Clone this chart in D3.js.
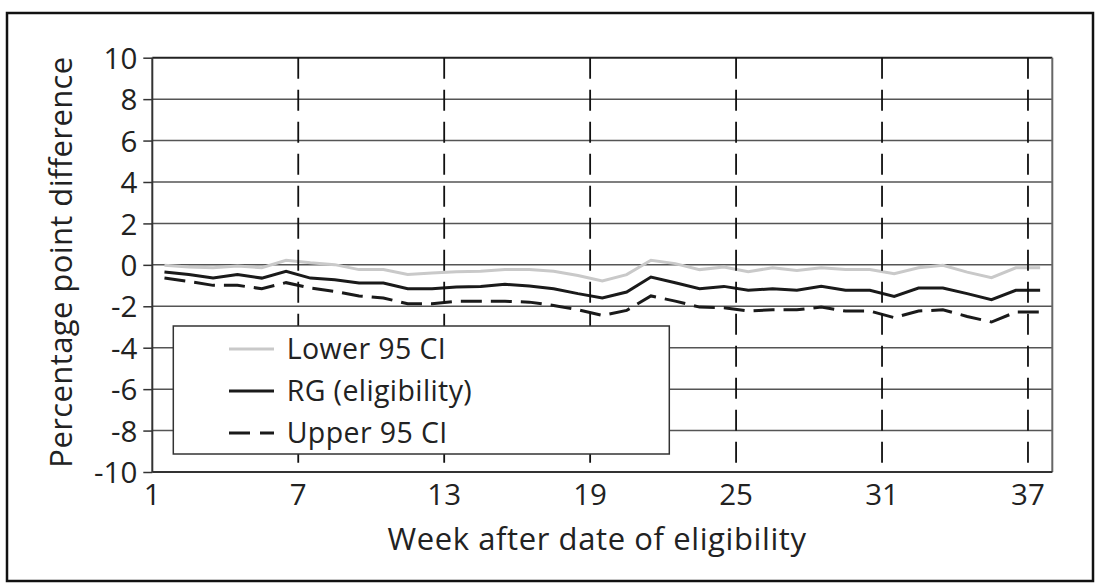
<!DOCTYPE html>
<html>
<head>
<meta charset="utf-8">
<script src="https://cdn.jsdelivr.net/npm/d3@7"></script>
<style>
  body { margin: 0; background: #fff; }
  svg { display: block; font-family: "Open Sans", "Noto Sans", sans-serif; }
</style>
</head>
<body>
<svg width="1101" height="588"></svg>
<script>
// ---- Dados
const weeks = d3.range(1, 38);
const xTicks = [1, 7, 13, 19, 25, 31, 37];
const yTicks = [-10, -8, -6, -4, -2, 0, 2, 4, 6, 8, 10];

const lowerCI = [-0.02, -0.10, -0.14, -0.06, -0.14, 0.22, 0.10, 0.01, -0.23, -0.23,
  -0.47, -0.39, -0.33, -0.31, -0.23, -0.23, -0.31, -0.51, -0.78, -0.47,
  0.22, 0.06, -0.23, -0.10, -0.33, -0.14, -0.27, -0.14, -0.23, -0.23,
  -0.43, -0.14, -0.02, -0.35, -0.62, -0.14, -0.14];
const rg = [-0.35, -0.47, -0.64, -0.47, -0.64, -0.31, -0.64, -0.72, -0.88, -0.88,
  -1.15, -1.15, -1.07, -1.04, -0.94, -1.02, -1.15, -1.39, -1.60, -1.31,
  -0.59, -0.86, -1.15, -1.04, -1.23, -1.15, -1.23, -1.04, -1.23, -1.23,
  -1.52, -1.12, -1.12, -1.39, -1.68, -1.23, -1.23];
const upperCI = [-0.64, -0.80, -0.99, -0.99, -1.15, -0.86, -1.12, -1.28, -1.50, -1.60,
  -1.88, -1.88, -1.76, -1.76, -1.76, -1.80, -1.96, -2.17, -2.44, -2.20,
  -1.50, -1.75, -2.04, -2.07, -2.23, -2.17, -2.17, -2.04, -2.23, -2.23,
  -2.55, -2.23, -2.17, -2.49, -2.76, -2.28, -2.28];

const seriesNames = ['Lower 95 CI', 'RG (eligibility)', 'Upper 95 CI'];
const xTitle = 'Week after date of eligibility';
const yTitle = 'Percentage point difference';

const margens = { left: 152.3, right: 1052.3, top: 57.7, bottom: 472 };

const svg = d3.select('svg');

// moldura externa
svg.append('rect')
  .attr('x', 7).attr('y', 13)
  .attr('width', 1086).attr('height', 568)
  .attr('fill', 'none')
  .attr('stroke', '#111')
  .attr('stroke-width', 2.5);

// ---- Escalas
const mapX = d3.scaleBand().domain(weeks).range([margens.left, margens.right]).paddingInner(0).paddingOuter(0);
const mapY = d3.scaleLinear().domain([-10, 10]).range([margens.bottom, margens.top]);
const mid = d => mapX(d) + mapX.bandwidth() / 2;

const styles = [
  { stroke: '#c9c9c9', dash: null },
  { stroke: '#1a1a1a', dash: null },
  { stroke: '#1a1a1a', dash: '21,9' }
];

// ---- Grade horizontal
svg.append('g')
  .selectAll('line')
  .data(yTicks)
  .join('line')
  .attr('x1', margens.left).attr('x2', margens.right)
  .attr('y1', d => mapY(d)).attr('y2', d => mapY(d))
  .attr('stroke', d => d === 10 ? '#222' : '#555')
  .attr('stroke-width', d => d === 10 ? 2 : 1.5);

// borda direita
svg.append('line')
  .attr('x1', margens.right).attr('x2', margens.right)
  .attr('y1', margens.top).attr('y2', margens.bottom)
  .attr('stroke', '#666').attr('stroke-width', 2);

// ---- Paths
const series = [lowerCI, rg, upperCI];
const line = d3.line()
  .x((d, i) => mid(weeks[i]))
  .y(d => mapY(d));

svg.append('g')
  .selectAll('path')
  .data(series)
  .join('path')
  .attr('fill', 'none')
  .attr('stroke', (d, i) => styles[i].stroke)
  .attr('stroke-width', 3)
  .attr('stroke-dasharray', (d, i) => styles[i].dash)
  .attr('d', line);

// ---- Grade vertical tracejada
svg.append('g')
  .selectAll('line')
  .data(xTicks.slice(1))
  .join('line')
  .attr('x1', d => mapX(d)).attr('x2', d => mapX(d))
  .attr('y1', margens.top).attr('y2', margens.bottom)
  .attr('stroke', '#111')
  .attr('stroke-width', 1.8)
  .attr('stroke-dasharray', '21,11');

// ---- Eixos
const yAxis = d3.axisLeft(mapY).tickValues(yTicks).tickFormat(d => String(d)).tickSize(9).tickPadding(6);
const groupY = svg.append('g')
  .attr('transform', `translate(${margens.left},0)`)
  .call(yAxis);
groupY.select('.domain').remove();
groupY.selectAll('.tick line').attr('stroke', '#333').attr('stroke-width', 1.5);
groupY.selectAll('.tick text')
  .attr('font-size', 29.5).attr('fill', '#222')
  .attr('font-family', '"Open Sans", sans-serif')
  .attr('dy', '0.36em');

svg.append('line')
  .attr('x1', margens.left).attr('x2', margens.left)
  .attr('y1', margens.top).attr('y2', margens.bottom)
  .attr('stroke', '#333').attr('stroke-width', 2);
svg.append('line')
  .attr('x1', margens.left).attr('x2', margens.right)
  .attr('y1', margens.bottom).attr('y2', margens.bottom)
  .attr('stroke', '#333').attr('stroke-width', 2);

svg.append('g')
  .selectAll('text')
  .data(xTicks)
  .join('text')
  .attr('x', d => mapX(d))
  .attr('y', 505)
  .attr('text-anchor', 'middle')
  .attr('font-size', 29.5)
  .attr('fill', '#222')
  .text(d => d);

// títulos
svg.append('text')
  .attr('x', 597).attr('y', 550)
  .attr('text-anchor', 'middle')
  .attr('font-size', 31)
  .attr('letter-spacing', 0.6)
  .attr('fill', '#222')
  .text(xTitle);

svg.append('text')
  .attr('transform', 'translate(72,262) rotate(-90)')
  .attr('text-anchor', 'middle')
  .attr('font-size', 31)
  .attr('letter-spacing', 0.4)
  .attr('fill', '#222')
  .text(yTitle);

// ---- Legenda
const legend = svg.append('g');
legend.append('rect')
  .attr('x', 173.3).attr('y', 326)
  .attr('width', 496).attr('height', 128)
  .attr('fill', '#fff')
  .attr('stroke', '#333')
  .attr('stroke-width', 1.5);

const rows = legend.selectAll('g.row')
  .data(seriesNames)
  .join('g')
  .attr('class', 'row')
  .attr('transform', (d, i) => `translate(0, ${349 + i * 42})`);

rows.append('line')
  .attr('x1', 229).attr('x2', 274)
  .attr('y1', 0).attr('y2', 0)
  .attr('stroke', (d, i) => styles[i].stroke)
  .attr('stroke-width', 3)
  .attr('stroke-dasharray', (d, i) => i === 2 ? '21,10' : null);

rows.append('text')
  .attr('x', 286.7)
  .attr('y', 9.5)
  .attr('font-size', 28.5)
  .attr('letter-spacing', 0.4)
  .attr('fill', '#222')
  .text(d => d);
</script>
</body>
</html>
